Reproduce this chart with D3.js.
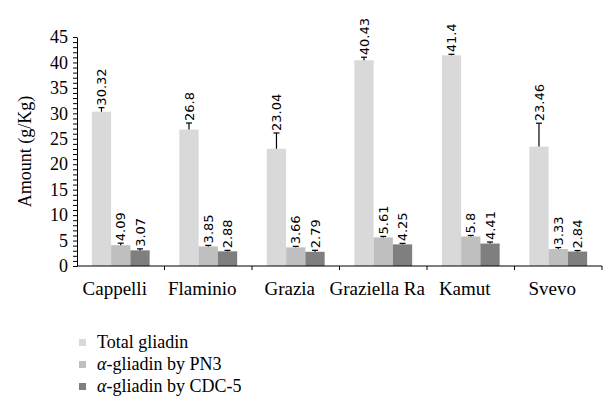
<!DOCTYPE html>
<html>
<head>
<meta charset="utf-8">
<script src="https://d3js.org/d3.v7.min.js"></script>
<style>
body { margin: 0; background: #fff; }
.serif { font-family: "Liberation Serif", "Times New Roman", serif; fill: #000; }
.val { font-family: "DejaVu Sans", sans-serif; font-size: 13px; fill: #000; }
</style>
</head>
<body>
<svg id="chart" width="603" height="406"></svg>
<script>
// data
var categories = ["Cappelli", "Flaminio", "Grazia", "Graziella Ra", "Kamut", "Svevo"];
var seriesNames = ["Total gliadin", "α-gliadin by PN3", "α-gliadin by CDC-5"];
var totalGliadin = [30.32, 26.8, 23.04, 40.43, 41.4, 23.46];
var alphaPN3 = [4.09, 3.85, 3.66, 5.61, 5.8, 3.33];
var alphaCDC5 = [3.07, 2.88, 2.79, 4.25, 4.41, 2.84];
var errTotal = [0.8, 1.3, 3.1, 0.6, 0.2, 4.6];
var errPN3 = [0.4, 0.2, 0.2, 0.2, 0.2, 0.3];
var errCDC5 = [0.3, 0.2, 0.3, 0.2, 0.3, 0.2];
var yTicks = [0, 5, 10, 15, 20, 25, 30, 35, 40, 45];

var colors = ["#d9d9d9", "#bfbfbf", "#7f7f7f"];
var values = [totalGliadin, alphaPN3, alphaCDC5];
var errors = [errTotal, errPN3, errCDC5];

var svg = d3.select("#chart");
var margin = {top: 37, left: 77, right: 1},
    axisBottom = 266;

var x = d3.scaleBand()
    .domain(categories)
    .range([margin.left, 603 - margin.right])
    .paddingInner(0).paddingOuter(0);

var x1 = d3.scaleBand()
    .domain(d3.range(3))
    .range([0, x.bandwidth()])
    .paddingOuter(0.77).paddingInner(0);

var y = d3.scaleLinear()
    .domain([0, 45])
    .range([axisBottom, margin.top]);

// bars, one group per category
var rows = [];
categories.forEach(function(c, i) {
  for (var s = 0; s < 3; s++) {
    rows.push({cat: c, s: s, v: values[s][i], e: errors[s][i]});
  }
});

var g = svg.append("g");

g.selectAll("rect.bar")
  .data(rows)
  .enter().append("rect")
    .attr("class", "bar")
    .attr("x", function(d) { return x(d.cat) + x1(d.s); })
    .attr("width", x1.bandwidth())
    .attr("y", function(d) { return y(d.v); })
    .attr("height", function(d) { return y(0) - y(d.v); })
    .attr("fill", function(d) { return colors[d.s]; });

// error bars (upper only)
var eb = g.selectAll("g.err")
  .data(rows)
  .enter().append("g")
    .attr("class", "err")
    .attr("transform", function(d) {
      return "translate(" + (x(d.cat) + x1(d.s) + x1.bandwidth() / 2) + ",0)";
    });

eb.append("line")
    .attr("y1", function(d) { return y(d.v); })
    .attr("y2", function(d) { return y(d.v + d.e); })
    .attr("stroke", "#000").attr("stroke-width", 1.2);

eb.append("line")
    .attr("x1", -3).attr("x2", 3)
    .attr("y1", function(d) { return y(d.v + d.e); })
    .attr("y2", function(d) { return y(d.v + d.e); })
    .attr("stroke", "#000").attr("stroke-width", 1.2);

// value labels
eb.append("text")
    .attr("class", "val")
    .attr("transform", function(d) {
      return "translate(0," + (y(d.v + d.e) - 2) + ") rotate(-90)";
    })
    .attr("dy", "0.36em")
    .text(function(d) { return d.v; });

// y axis with minor ticks
var yAxis = g.append("g").attr("transform", "translate(" + margin.left + ",0)");
yAxis.append("g")
    .call(d3.axisLeft(y).tickValues(d3.range(0, 46, 1)).tickSize(4).tickFormat(""))
    .call(function(a) { a.select(".domain").remove(); });
yAxis.append("g")
    .call(d3.axisLeft(y).tickValues(yTicks).tickSize(0).tickPadding(9))
    .call(function(a) {
      a.select(".domain").attr("stroke", "#000");
      a.selectAll("text").attr("class", "serif").style("font-size", "18px")
        .attr("font-family", null);
    });
yAxis.selectAll("line").attr("stroke", "#000");

// x axis
var xAxis = g.append("g").attr("transform", "translate(0," + axisBottom + ")");
xAxis.append("line")
    .attr("x1", margin.left).attr("x2", 603 - margin.right)
    .attr("stroke", "#000");
xAxis.selectAll("line.tk")
  .data(categories)
  .enter().append("line")
    .attr("class", "tk")
    .attr("x1", function(d) { return x(d) + x.bandwidth(); })
    .attr("x2", function(d) { return x(d) + x.bandwidth(); })
    .attr("y1", 0).attr("y2", 4)
    .attr("stroke", "#000");
xAxis.selectAll("text")
  .data(categories)
  .enter().append("text")
    .attr("class", "serif")
    .style("font-size", "19px")
    .attr("text-anchor", "middle")
    .attr("x", function(d) { return x(d) + x.bandwidth() / 2 - 6; })
    .attr("y", 29)
    .text(function(d) { return d; });

// y axis title
svg.append("text")
    .attr("class", "serif")
    .style("font-size", "18px")
    .attr("text-anchor", "middle")
    .attr("transform", "translate(31," + ((axisBottom + margin.top) / 2) + ") rotate(-90)")
    .text("Amount (g/Kg)");

// legend
var legend = svg.append("g").attr("transform", "translate(79,342)");
var li = legend.selectAll("g")
  .data(seriesNames)
  .enter().append("g")
    .attr("transform", function(d, i) { return "translate(0," + i * 22 + ")"; });
li.append("rect")
    .attr("x", 0).attr("y", -3).attr("width", 7).attr("height", 7)
    .attr("fill", function(d, i) { return colors[i]; });
li.append("text")
    .attr("class", "serif")
    .style("font-size", "18px")
    .attr("x", 18).attr("dy", "0.35em")
    .each(function(d) {
      var t = d3.select(this);
      if (d.charAt(0) === "α") {
        t.append("tspan").style("font-style", "italic").text("α");
        t.append("tspan").text(d.slice(1));
      } else {
        t.text(d);
      }
    });
</script>
</body>
</html>
